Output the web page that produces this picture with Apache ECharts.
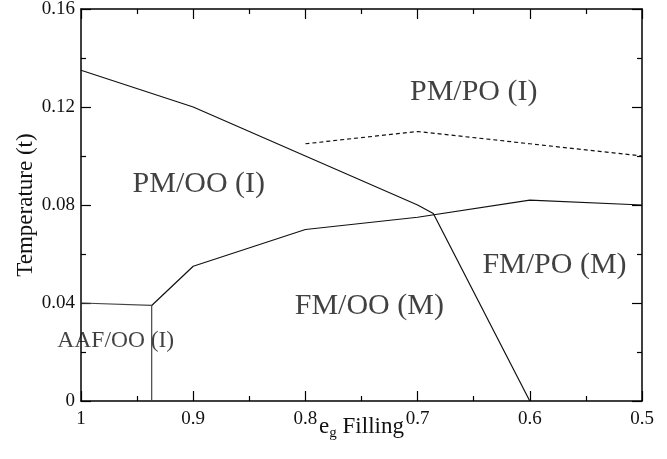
<!DOCTYPE html>
<html>
<head>
<meta charset="utf-8">
<script src="https://cdn.jsdelivr.net/npm/echarts@6/dist/echarts.min.js"></script>
<style>html,body{margin:0;padding:0;background:#fff}#c{width:667px;height:459px}</style>
</head>
<body>
<div id="c"></div>
<script>
// Upper boundary (PM/OO -> FM) and FM/OO -> FM/PO boundary
const upperX = [1, 0.9, 0.8, 0.7, 0.686, 0.6];
const upperY = [0.135, 0.12, 0.1, 0.08, 0.0765, 0];
// Lower boundary (FM/OO and FM/PO top)
const lowerX = [0.937, 0.9, 0.8, 0.7, 0.6, 0.5];
const lowerY = [0.039, 0.055, 0.07, 0.075, 0.082, 0.08];
// AAF region boundary
const aafX = [1, 0.937, 0.937];
const aafY = [0.04, 0.039, 0];
// Dashed PM/PO boundary
const dashX = [0.8, 0.7, 0.6, 0.5];
const dashY = [0.105, 0.11, 0.105, 0.1];
// Region labels
const regionNames = ['PM/PO (I)', 'PM/OO (I)', 'FM/PO (M)', 'FM/OO (M)', 'AAF/OO (I)'];
const regionX = [0.650, 0.895, 0.578, 0.743, 0.969];
const regionY = [0.126, 0.0886, 0.0555, 0.0388, 0.0247];
const regionSize = [30, 30, 30, 30, 23.5];

const serif = '"Liberation Serif","Times New Roman",serif';
const ink = '#111';
const zip = (xs, ys) => xs.map((x, i) => [x, ys[i]]);

const chart = echarts.init(document.getElementById('c'), null, {renderer: 'canvas'});
const axisLine = {show: true, onZero: false, lineStyle: {color: '#000', width: 1.5}};
const tickX = {show: true, inside: true, length: 10, lineStyle: {color: '#000', width: 1.2}};
const minorTick = {show: true, splitNumber: 2, length: 5, lineStyle: {color: '#000', width: 1.2}};
chart.setOption({
  animation: false,
  grid: {left: 81, right: 25, top: 9, bottom: 58, outerBoundsMode: 'none', containLabel: false},
  xAxis: [{
    type: 'value', min: 0.5, max: 1, interval: 0.1, inverse: true,
    axisLine, axisTick: tickX, minorTick, splitLine: {show: false}, minorSplitLine: {show: false},
    axisLabel: {color: ink, fontSize: 19, fontFamily: serif, margin: 9,
      formatter: v => String(Math.round(v * 10) / 10)},
    name: '{a|e}{s|g}{a| Filling}', nameLocation: 'middle', nameGap: 11, nameMoveOverlap: false,
    nameTextStyle: {fontFamily: serif, color: ink,
      rich: {a: {fontSize: 23, fontFamily: serif, color: ink},
             s: {fontSize: 15, fontFamily: serif, color: ink, padding: [14, 0, 0, 0]}}}
  }, {
    type: 'value', min: 0.5, max: 1, interval: 0.1, inverse: true, position: 'top',
    axisLine, axisTick: tickX, minorTick, splitLine: {show: false}, axisLabel: {show: false}
  }],
  yAxis: [{
    type: 'value', min: 0, max: 0.16, interval: 0.04,
    axisLine, axisTick: tickX, minorTick, splitLine: {show: false}, minorSplitLine: {show: false},
    axisLabel: {color: ink, fontSize: 19, fontFamily: serif, margin: 6,
      formatter: v => String(Math.round(v * 100) / 100)},
    name: 'Temperature (t)', nameLocation: 'middle', nameGap: 44, nameRotate: 90, nameMoveOverlap: false,
    nameTextStyle: {fontFamily: serif, fontSize: 23, color: ink}
  }, {
    type: 'value', min: 0, max: 0.16, interval: 0.04, position: 'right',
    axisLine, axisTick: tickX, minorTick, splitLine: {show: false}, axisLabel: {show: false}
  }],
  series: [
    {type: 'line', data: zip(upperX, upperY), symbol: 'none', lineStyle: {color: '#111', width: 1.2}},
    {type: 'line', data: zip(lowerX, lowerY), symbol: 'none', lineStyle: {color: '#111', width: 1.2}},
    {type: 'line', data: zip(aafX, aafY), symbol: 'none', lineStyle: {color: '#444', width: 1.2}},
    {type: 'line', data: zip(dashX, dashY), symbol: 'none', lineStyle: {color: '#111', width: 1.2, type: [4, 3]}},
    {type: 'scatter', symbolSize: 0, clip: false,
      data: regionNames.map((n, i) => ({value: [regionX[i], regionY[i]], name: n,
        label: {show: true, position: 'inside', formatter: n, fontFamily: serif,
          fontSize: regionSize[i], color: ink}}))}
  ]
});
</script>
</body>
</html>
